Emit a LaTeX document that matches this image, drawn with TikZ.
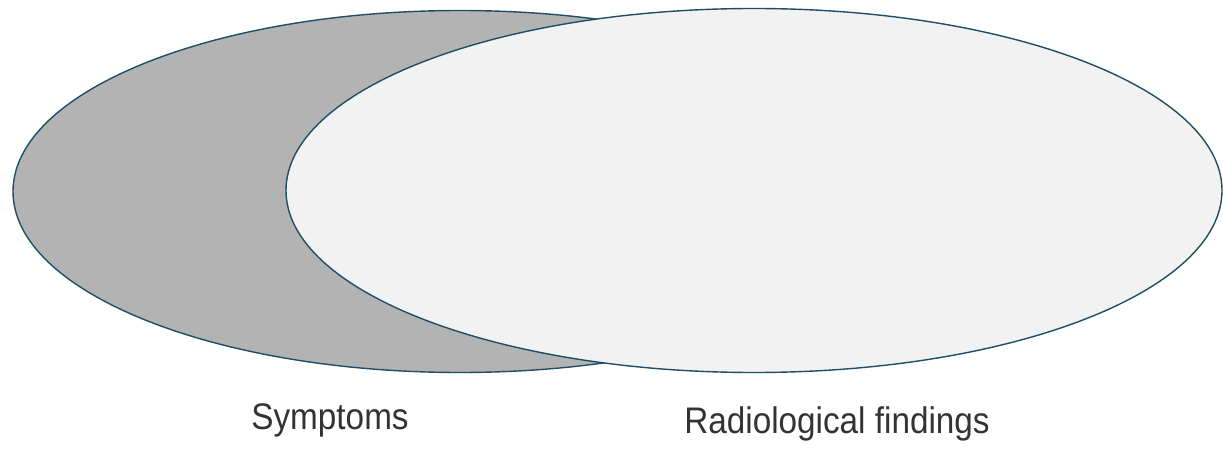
\documentclass[tikz,border=0pt]{standalone}
\usepackage{fontspec}
\setmainfont{Liberation Sans}
\definecolor{edgeblue}{HTML}{1F4E66}
\definecolor{setgray}{HTML}{B3B3B3}
\definecolor{setlight}{HTML}{F2F2F2}
\definecolor{labelgray}{HTML}{333333}
\tikzset{
  setshape/.style={draw=edgeblue, line width=1.4pt},
  setlabel/.style={text=labelgray, font=\fontsize{37}{42}\selectfont, anchor=base, inner sep=0pt}
}
\begin{document}
\begin{tikzpicture}[x=1pt,y=-1pt]
\useasboundingbox (0,0) rectangle (1223,454);
\draw[setshape, fill=setgray] (460,191.5) ellipse [x radius=447, y radius=181];
\draw[setshape, fill=setlight] (754,190.5) ellipse [x radius=468, y radius=182];
\node[setlabel, xscale=0.9] (symptoms) at (330,429) {Symptoms};
\node[setlabel, xscale=0.9] (radio) at (837,433) {Radiological findings};
\end{tikzpicture}
\end{document}
